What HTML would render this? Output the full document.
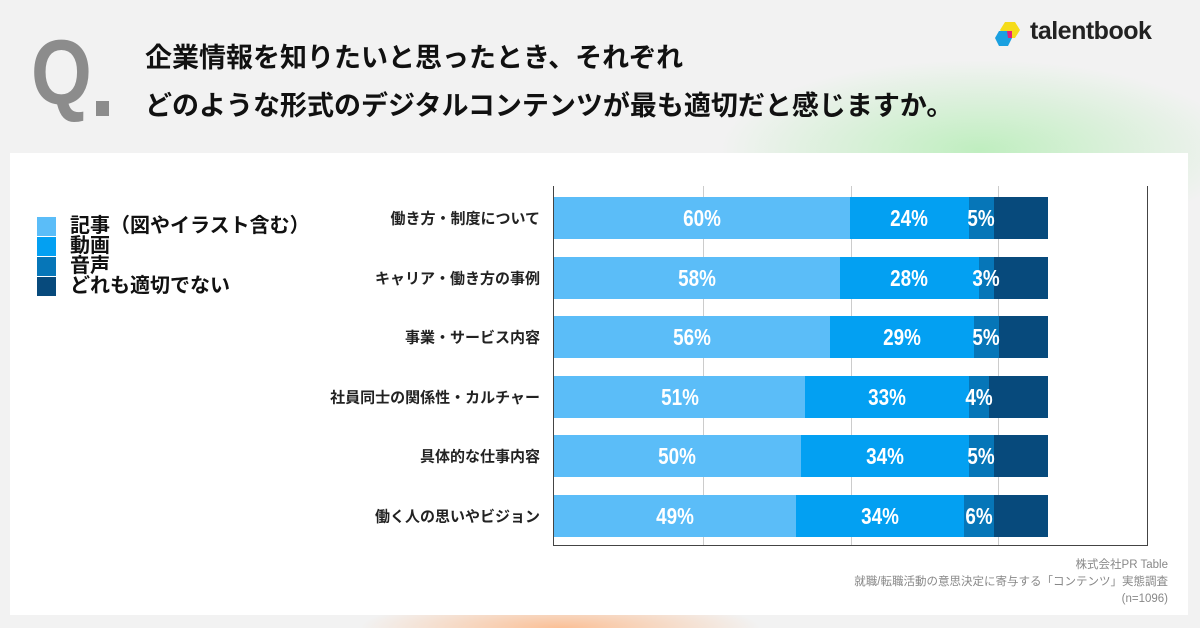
<!DOCTYPE html>
<html><head><meta charset="utf-8"><style>
body{margin:0;width:1200px;height:628px;overflow:hidden;font-family:"Liberation Sans","Noto Sans CJK JP",sans-serif;
background:radial-gradient(ellipse 260px 90px at 980px 150px,rgba(150,235,150,.55),transparent),radial-gradient(ellipse 200px 30px at 560px 628px,rgba(255,170,110,.7),transparent),#f2f2f2;position:relative}
.a{position:absolute}
.card{left:10px;top:153px;width:1178px;height:462px;background:#fff}
.t{font-weight:bold;font-size:27px;color:#111;left:145px;white-space:nowrap}
.lab{right:660px;font-size:15px;font-weight:bold;color:#222;white-space:nowrap;transform:translateY(-50%)}
.seg{height:42px}
.pl{height:42px;color:#fff;font-weight:bold;font-size:23px;line-height:42px;text-align:center;white-space:nowrap;width:80px;margin-left:-40px;transform:scaleX(.82)}
.lg{left:37px;width:19px;height:19px}
.lt{left:70px;font-size:20px;font-weight:bold;color:#111;line-height:20px}
</style></head><body>
<div class="a" style="left:31px;top:27px;font-size:92px;font-weight:bold;color:#8c8c8c;line-height:92px;transform:scaleX(.85);transform-origin:left">Q</div>
<div class="a" style="left:96px;top:101px;width:13px;height:15px;background:#8c8c8c"></div>
<div class="a t" style="top:36px">企業情報を知りたいと思ったとき、それぞれ</div>
<div class="a t" style="top:84px">どのような形式のデジタルコンテンツが最も適切だと感じますか。</div>
<svg class="a" style="left:993px;top:20px" width="34" height="30"><polygon points="12,2 22,2 27,10 22,18 12,18 7,10" fill="#f5dc1a"/><polygon points="6,11 15,11 19,18 15,26 6,26 2,18" fill="#1aa0e0"/><polygon points="14,11 19,11 19,18 15,18" fill="#e0237a"/></svg>
<div class="a" style="left:1030px;top:17px;font-size:25px;font-weight:bold;color:#222;letter-spacing:-0.5px">talentbook</div>
<div class="a card"></div>
<div class="a lg" style="top:217px;background:#5bbdf8"></div>
<div class="a lg" style="top:237px;background:#03a0f2"></div>
<div class="a lg" style="top:257px;background:#0676b8"></div>
<div class="a lg" style="top:277px;background:#074a7c"></div>
<div class="a lt" style="top:216px">記事（図やイラスト含む）</div>
<div class="a lt" style="top:236px">動画</div>
<div class="a lt" style="top:256px">音声</div>
<div class="a lt" style="top:276px">どれも適切でない</div>
<div class="a" style="left:703px;top:186px;width:1px;height:359px;background:#ccc"></div>
<div class="a" style="left:851px;top:186px;width:1px;height:359px;background:#ccc"></div>
<div class="a" style="left:998px;top:186px;width:1px;height:359px;background:#ccc"></div>
<div class="a" style="left:1147px;top:186px;width:1px;height:359px;background:#444"></div>
<div class="a" style="left:553px;top:186px;width:1px;height:359px;background:#444"></div>
<div class="a" style="left:553px;top:545px;width:595px;height:1px;background:#444"></div>
<div id="bars"></div>
<div class="a" style="right:32px;top:557px;text-align:right;font-size:11.5px;color:#888;line-height:17px">株式会社PR Table<br>就職/転職活動の意思決定に寄与する「コンテンツ」実態調査<br>(n=1096)　</div>
<script>
var d=[["働き方・制度について",60,24,5],["キャリア・働き方の事例",58,28,3],["事業・サービス内容",56,29,5],["社員同士の関係性・カルチャー",51,33,4],["具体的な仕事内容",50,34,5],["働く人の思いやビジョン",49,34,6]];
var c=["#5bbdf8","#03a0f2","#0676b8","#074a7c"],h="",l="",k=4.95;
d.forEach(function(r,i){var y=197+i*59.5;h+='<div class="a lab" style="top:'+(y+21)+'px">'+r[0]+'</div>';
var x=554,cum=0;for(var j=0;j<4;j++){var v=j<3?r[j+1]:0;var x2=j<3?553+k*(cum+v):1048;cum+=v;
h+='<div class="a seg" style="left:'+x+'px;top:'+y+'px;width:'+(x2-x)+'px;background:'+c[j]+'"></div>';
if(j<3)l+='<div class="a pl" style="left:'+((x+x2)/2)+'px;top:'+y+'px">'+v+'%</div>';x=x2;}});
document.getElementById('bars').innerHTML=h+l;
</script>
</body></html>
